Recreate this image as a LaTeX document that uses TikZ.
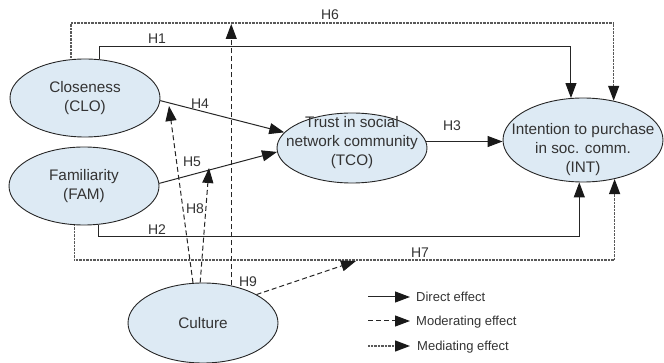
\documentclass[tikz,border=0pt]{standalone}
\usepackage{fontspec}
\setmainfont{Liberation Sans}
\usetikzlibrary{shapes.geometric,arrows.meta,calc}
\definecolor{ellfill}{HTML}{DDEAF4}
\definecolor{txtc}{HTML}{333333}
\begin{document}
\begin{tikzpicture}[x=1pt,y=-1pt,
 elps/.style={ellipse,draw=black!85,line width=0.9pt,fill=ellfill,minimum width=150pt,minimum height=78pt,inner sep=0pt},
 txt/.style={align=center,text=txtc,font=\fontsize{15.3}{19}\selectfont,inner sep=0pt},
 lab/.style={text=txtc,font=\fontsize{14}{16}\selectfont,inner sep=0pt},
 leg/.style={text=txtc,font=\fontsize{13}{15}\selectfont,inner sep=0pt,anchor=west},
 arr/.style={-{Triangle[length=15pt,width=11pt,color=black!90]}},
 dir/.style={arr,line width=1pt,draw=black!85},
 mod/.style={arr,line width=1pt,dash pattern=on 5pt off 3pt,draw=black!85},
 med/.style={arr,line width=1.3pt,dash pattern=on 0.7pt off 0.7pt,draw=black!65},
]
\useasboundingbox (0,0) rectangle (664,363);
% ellipses
\node[elps] (clo) at (85,98) {};
\node[elps] (fam) at (84,186) {};
\node[elps,minimum width=150pt,minimum height=70pt] (tco) at (352,148) {};
\node[elps,minimum width=160pt,minimum height=84pt] (int) at (583,140) {};
\node[elps,minimum height=80pt] (cul) at (203,323) {};
% texts
\node[txt] (tclo) at (85,98) {Closeness\\(CLO)};
\node[txt] (tfam) at (84,186) {Familiarity\\(FAM)};
\node[txt] (ttco) at (352,143) {Trust in social\\network community\\(TCO)};
\node[txt] (tint) at (583,150) {Intention to purchase\\in soc. comm.\\(INT)};
\node[txt] (tcul) at (203,323) {Culture};
% helper coordinates
\coordinate (ytop6) at (0,23);
\coordinate (ytop1) at (0,47);
\coordinate (ybot2) at (0,237);
\coordinate (ybot7) at (0,260);
\coordinate (m1) at (169,106);
\coordinate (m2) at (209,168);
\coordinate (m3) at (0,24);
\coordinate (m4) at (356,261);
% direct / mediating connectors
\draw[med] (clo.110) -- (clo.110 |- ytop6) -| (int.52);
\draw[dir] (clo.70) -- (clo.70 |- ytop1) -| (int.106);
\draw[dir] (fam.-69) -- (fam.-69 |- ybot2) -| (int.-95);
\draw[med] (fam.-104) -- (fam.-104 |- ybot7) -| (int.-51);
\draw[dir] (clo.-2) -- (tco.167);
\draw[dir] (fam.2) -- (tco.183);
\draw[dir] (tco.5) -- (tco.5 -| int.west);
% moderating
\draw[mod] (cul.104) -- (m1);
\draw[mod] (cul.94) -- (m2);
\draw[mod] (cul.53) -- (cul.53 |- m3);
\draw[mod] (cul.28) -- (m4);
% labels
\node[lab] (h6) at (330,15) {H6};
\node[lab] (h1) at (157,39) {H1};
\node[lab] (h4) at (200,104) {H4};
\node[lab] (h5) at (192,162) {H5};
\node[lab] (h3) at (452,126) {H3};
\node[lab] (h2) at (157,230) {H2};
\node[lab] (h7) at (420,253) {H7};
\node[lab] (h8) at (195,209) {H8};
\node[lab] (h9) at (248,282) {H9};
% legend
\node[leg] (l1) at (416,297) {Direct effect};
\node[leg] (l2) at (416,322) {Moderating effect};
\node[leg] (l3) at (417,347) {Mediating effect};
\coordinate (s1) at (368,297);
\coordinate (s2) at (368,321);
\coordinate (s3) at (368,346);
\draw[dir,shorten >=6pt] (s1) -- (s1 -| l1.west);
\draw[mod,shorten >=6pt] (s2) -- (s2 -| l2.west);
\draw[med,shorten >=7pt] (s3) -- (s3 -| l3.west);
\end{tikzpicture}
\end{document}
